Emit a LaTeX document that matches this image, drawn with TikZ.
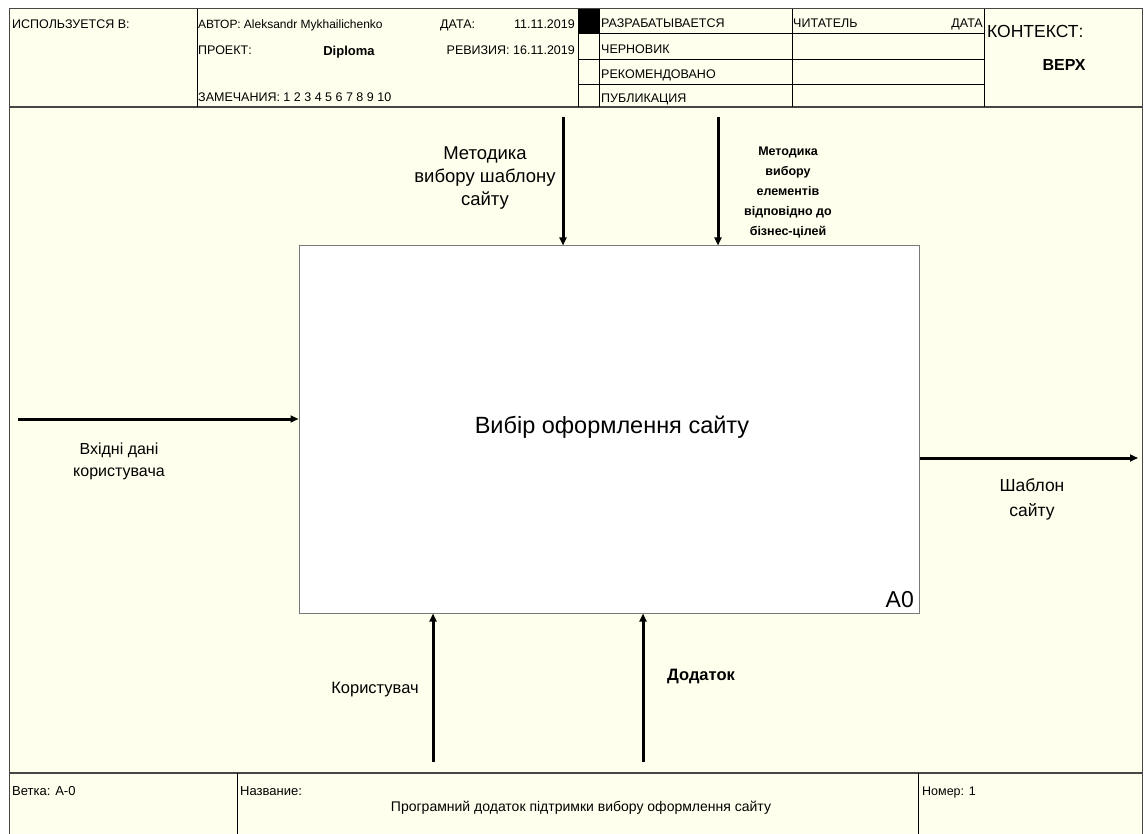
\documentclass[tikz,border=0pt]{standalone}
\usepackage{fontspec}
\setmainfont{Liberation Sans}
\usetikzlibrary{arrows.meta}
\definecolor{bgy}{RGB}{255,255,238}
\definecolor{frm}{RGB}{70,70,70}
\definecolor{boxline}{RGB}{120,120,120}
\begin{document}
\begin{tikzpicture}[x=1pt,y=-1pt,
  hdr/.style={anchor=base west,inner sep=0pt,font=\fontsize{12.5}{14}\selectfont},
  hdre/.style={anchor=base east,inner sep=0pt,font=\fontsize{12.5}{14}\selectfont},
  ftr/.style={anchor=base west,inner sep=0pt,font=\fontsize{13}{15}\selectfont},
  grid/.style={draw=black,line width=0.8pt},
  arr/.style={line width=3pt,-{Triangle[length=8pt,width=7pt]}},
  lbl/.style={align=center,inner sep=0pt},
  mainbox/.style={draw=boxline,fill=white,line width=1pt,minimum width=620pt,minimum height=367pt,inner sep=0pt}
]
\useasboundingbox (0,0) rectangle (1146,834);
\fill[white] (0,0) rectangle (1146,834);
\fill[bgy] (9,9) rectangle (1142,834);
% outer frame
\draw[frm,line width=1pt] (9,9) rectangle (1142,834);
% header grid
\draw[frm,line width=1.5pt] (9,107) -- (1142,107);
\draw[grid] (197,9) -- (197,107);
\draw[grid] (578,9) -- (578,107);
\draw[grid] (599,9) -- (599,107);
\draw[grid] (792,9) -- (792,107);
\draw[grid] (984,9) -- (984,107);
\draw[grid] (578,33) -- (984,33);
\draw[grid] (578,59) -- (984,59);
\draw[grid] (578,84) -- (984,84);
\fill[black] (578,9) rectangle (599,33);
% header texts
\node[hdr] (uses) at (12,29) {ИСПОЛЬЗУЕТСЯ В:};
\node[hdr,font=\fontsize{12}{14}\selectfont] (author) at (198,29) {АВТОР: Aleksandr Mykhailichenko};
\node[hdr] (date) at (440,29) {ДАТА:};
\node[hdre] (dateval) at (575,29) {11.11.2019};
\node[hdr] (proj) at (198,55) {ПРОЕКТ:};
\node[anchor=base,inner sep=0pt,font=\fontsize{13}{15}\selectfont\bfseries] (projval) at (349,56) {Diploma};
\node[hdre] (rev) at (575,55) {РЕВИЗИЯ: 16.11.2019};
\node[hdr] (notes) at (198,102) {ЗАМЕЧАНИЯ: 1 2 3 4 5 6 7 8 9 10};
\node[hdr] (st1) at (601,28) {РАЗРАБАТЫВАЕТСЯ};
\node[hdr] (st2) at (601,54) {ЧЕРНОВИК};
\node[hdr] (st3) at (601,79) {РЕКОМЕНДОВАНО};
\node[hdr] (st4) at (601,103) {ПУБЛИКАЦИЯ};
\node[hdr] (reader) at (793,28) {ЧИТАТЕЛЬ};
\node[hdre] (rdate) at (983,28) {ДАТА};
\node[anchor=base west,inner sep=0pt,font=\fontsize{17.5}{19}\selectfont] (ctx) at (987,38) {КОНТЕКСТ:};
\node[anchor=base,inner sep=0pt,font=\fontsize{16}{18}\selectfont\bfseries] (top) at (1064,71) {ВЕРХ};
% footer
\draw[frm,line width=1.2pt] (9,773) -- (1142,773);
\draw[grid] (237,773) -- (237,834);
\draw[grid] (918,773) -- (918,834);
\node[ftr] (branch) at (12,795) {Ветка: A-0};
\node[ftr] (name) at (240,795) {Название:};
\node[anchor=base,inner sep=0pt,font=\fontsize{14}{16}\selectfont] (title) at (581,811) {Програмний додаток підтримки вибору оформлення сайту};
\node[ftr,font=\fontsize{12.5}{15}\selectfont] (num) at (922,795) {Номер: 1};
% main box
\node[mainbox] (A0box) at (609,429.5) {};
\node[font=\fontsize{23.5}{26}\selectfont,inner sep=0pt] (A0title) at (612,427) {Вибір оформлення сайту};
\node[anchor=base east,font=\fontsize{23}{25}\selectfont,inner sep=0pt] (A0lab) at (914,607) {A0};
% controls
\coordinate (c1) at (563,117);
\coordinate (c2) at (718,117);
\draw[arr] (c1) -- (c1 |- A0box.north);
\draw[arr] (c2) -- (c2 |- A0box.north);
\node[lbl,font=\fontsize{18.5}{23}\selectfont] (c1lab) at (485,178) {Методика\\вибору шаблону\\сайту};
\node[lbl,font=\fontsize{12.5}{20}\selectfont\bfseries] (c2lab) at (788,192) {Методика\\вибору\\елементів\\відповідно до\\бізнес-цілей};
% input
\coordinate (in1) at (18,419);
\draw[arr] (in1) -- (in1 -| A0box.west);
\node[lbl,font=\fontsize{16}{22}\selectfont] (in1lab) at (119,461) {Вхідні дані\\користувача};
% output
\coordinate (out1) at (1138,458);
\draw[arr] (A0box.east |- out1) -- (out1);
\node[lbl,font=\fontsize{17.5}{25}\selectfont] (out1lab) at (1032,499) {Шаблон\\сайту};
% mechanisms
\coordinate (m1) at (433,762);
\coordinate (m2) at (643,762);
\draw[arr] (m1) -- (m1 |- A0box.south);
\draw[arr] (m2) -- (m2 |- A0box.south);
\node[lbl,font=\fontsize{16.5}{18}\selectfont] (m1lab) at (375,690) {Користувач};
\node[lbl,font=\fontsize{16.5}{18}\selectfont\bfseries] (m2lab) at (701,676) {Додаток};
\end{tikzpicture}
\end{document}
